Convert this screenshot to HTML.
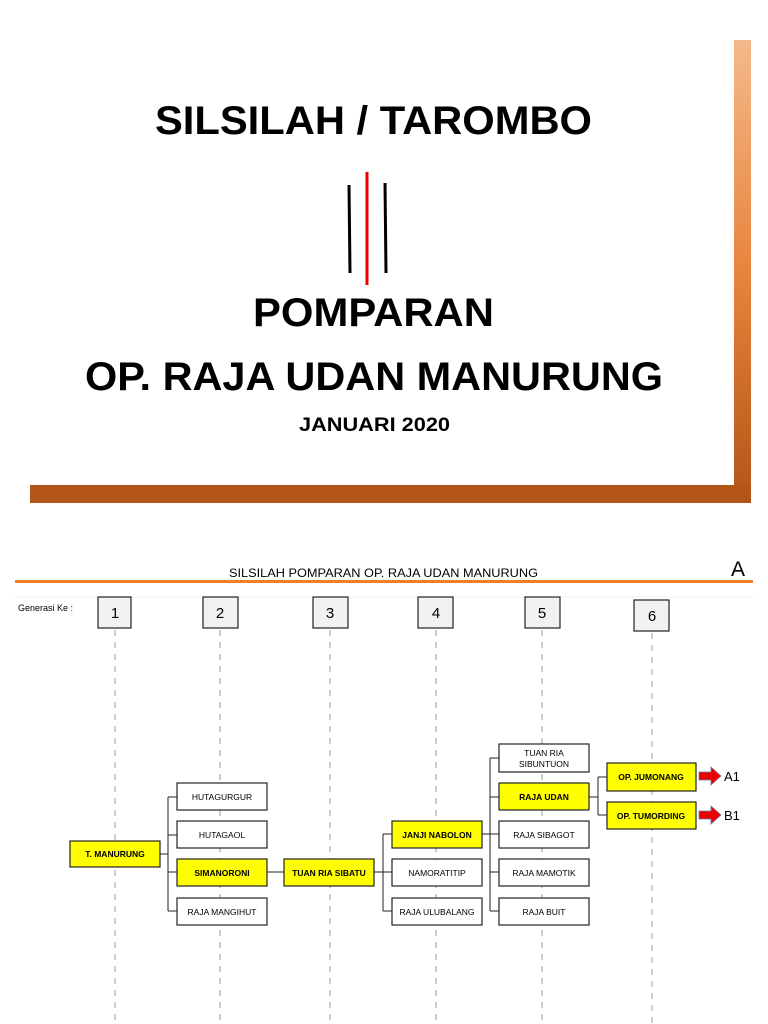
<!DOCTYPE html>
<html><head><meta charset="utf-8"><style>
body{margin:0;background:#fff;width:768px;height:1024px;overflow:hidden}
svg{display:block}
text{font-family:"Liberation Sans",sans-serif}
</style></head><body>
<svg width="768" height="1024" viewBox="0 0 768 1024" xmlns="http://www.w3.org/2000/svg">
<defs>
<linearGradient id="g" x1="0" y1="0" x2="0" y2="1">
<stop offset="0" stop-color="#f3b98a"/><stop offset="0.5" stop-color="#e8843c"/><stop offset="1" stop-color="#b25517"/>
</linearGradient>
</defs>
<rect x="734" y="40" width="17" height="463" fill="url(#g)"/>
<rect x="30" y="485" width="721" height="18" fill="#b25517"/>
<g font-weight="bold" fill="#000">
<text x="155" y="134" font-size="40" textLength="437" lengthAdjust="spacingAndGlyphs">SILSILAH / TAROMBO</text>
<text x="253" y="326" font-size="40" textLength="241" lengthAdjust="spacingAndGlyphs">POMPARAN</text>
<text x="85" y="390" font-size="40" textLength="578" lengthAdjust="spacingAndGlyphs">OP. RAJA UDAN MANURUNG</text>
<text x="299" y="431" font-size="19" textLength="151" lengthAdjust="spacingAndGlyphs">JANUARI 2020</text>
</g>
<line x1="349" y1="185" x2="350" y2="273" stroke="#000" stroke-width="3"/>
<line x1="367" y1="172" x2="367" y2="285" stroke="#e00" stroke-width="3"/>
<line x1="385" y1="183" x2="386" y2="273" stroke="#000" stroke-width="3"/>

<text x="229" y="577" font-size="12" textLength="309" lengthAdjust="spacingAndGlyphs">SILSILAH POMPARAN OP. RAJA UDAN MANURUNG</text>
<text x="731" y="576" font-size="21">A</text>
<rect x="15" y="580" width="738" height="3" fill="#ed7d31"/>
<line x1="15" y1="597" x2="753" y2="597" stroke="#eee" stroke-width="1"/>
<text x="18" y="611" font-size="9">Generasi Ke :</text>
<g stroke="#bbb" stroke-width="1.5" stroke-dasharray="6,6">
<line x1="115" y1="630" x2="115" y2="1024"/><line x1="220" y1="630" x2="220" y2="1024"/>
<line x1="330" y1="630" x2="330" y2="1024"/><line x1="436" y1="630" x2="436" y2="1024"/>
<line x1="542" y1="630" x2="542" y2="1024"/><line x1="652" y1="633" x2="652" y2="1024"/>
</g>
<g fill="#f2f2f2" stroke="#222" stroke-width="1.2">
<rect x="98" y="597" width="33" height="31"/><rect x="203" y="597" width="35" height="31"/>
<rect x="313" y="597" width="35" height="31"/><rect x="418" y="597" width="35" height="31"/>
<rect x="525" y="597" width="35" height="31"/><rect x="634" y="600" width="35" height="31"/>
</g>
<g font-size="15" text-anchor="middle">
<text x="115" y="618">1</text><text x="220" y="618">2</text><text x="330" y="618">3</text>
<text x="436" y="618">4</text><text x="542" y="618">5</text><text x="652" y="621">6</text>
</g>
<g stroke="#222" stroke-width="1" fill="none">
<path d="M160 854H168M168 797V911M168 797H177M168 835H177M168 872H177M168 911H177"/>
<path d="M267 872H284"/>
<path d="M374 872H383M383 834V911M383 834H392M383 872H392M383 911H392"/>
<path d="M482 834H490M490 758V911M490 758H499M490 797H499M490 834H499M490 872H499M490 911H499"/>
<path d="M589 797H598M598 777V815M598 777H607M598 815H607"/>
</g>
<g stroke="#222" stroke-width="1.2">
<rect x="70" y="841" width="90" height="26" fill="#ff0"/>
<rect x="177" y="783" width="90" height="27" fill="#fff"/>
<rect x="177" y="821" width="90" height="27" fill="#fff"/>
<rect x="177" y="859" width="90" height="27" fill="#ff0"/>
<rect x="177" y="898" width="90" height="27" fill="#fff"/>
<rect x="284" y="859" width="90" height="27" fill="#ff0"/>
<rect x="392" y="821" width="90" height="27" fill="#ff0"/>
<rect x="392" y="859" width="90" height="27" fill="#fff"/>
<rect x="392" y="898" width="90" height="27" fill="#fff"/>
<rect x="499" y="744" width="90" height="28" fill="#fff"/>
<rect x="499" y="783" width="90" height="27" fill="#ff0"/>
<rect x="499" y="821" width="90" height="27" fill="#fff"/>
<rect x="499" y="859" width="90" height="27" fill="#fff"/>
<rect x="499" y="898" width="90" height="27" fill="#fff"/>
<rect x="607" y="763" width="89" height="28" fill="#ff0"/>
<rect x="607" y="802" width="89" height="27" fill="#ff0"/>
</g>
<g font-size="8.5" text-anchor="middle">
<text x="115" y="857" font-weight="bold">T. MANURUNG</text>
<text x="222" y="800">HUTAGURGUR</text>
<text x="222" y="838">HUTAGAOL</text>
<text x="222" y="876" font-weight="bold">SIMANORONI</text>
<text x="222" y="915">RAJA MANGIHUT</text>
<text x="329" y="876" font-weight="bold">TUAN RIA SIBATU</text>
<text x="437" y="838" font-weight="bold">JANJI NABOLON</text>
<text x="437" y="876">NAMORATITIP</text>
<text x="437" y="915">RAJA ULUBALANG</text>
<text x="544" y="756">TUAN RIA</text>
<text x="544" y="767">SIBUNTUON</text>
<text x="544" y="800" font-weight="bold">RAJA UDAN</text>
<text x="544" y="838">RAJA SIBAGOT</text>
<text x="544" y="876">RAJA MAMOTIK</text>
<text x="544" y="915">RAJA BUIT</text>
<text x="651" y="780" font-weight="bold">OP. JUMONANG</text>
<text x="651" y="819" font-weight="bold">OP. TUMORDING</text>
</g>
<g fill="#e00" stroke="#6a7bb0" stroke-width="0.8">
<path d="M699 772H711V767L721 776L711 785V780H699Z"/>
<path d="M699 811H711V806L721 815L711 824V819H699Z"/>
</g>
<g font-size="13"><text x="724" y="781">A1</text><text x="724" y="820">B1</text></g>
</svg>
</body></html>
